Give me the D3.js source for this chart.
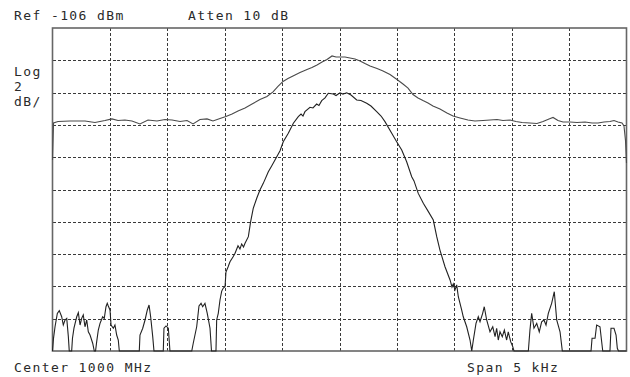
<!DOCTYPE html>
<html>
<head>
<meta charset="utf-8">
<script src="https://cdn.jsdelivr.net/npm/d3@7/dist/d3.min.js"></script>
<style>
  html, body { margin: 0; padding: 0; background: #fff; }
  svg { display: block; }
  text { font-family: "DejaVu Sans Mono", "Liberation Mono", monospace; font-size: 13px; fill: #2a2a2a; letter-spacing: 1.4px; }
</style>
</head>
<body>
<svg id="chart" width="630" height="377"></svg>
<script>
// ---- Data (frequency offset from center in Hz, amplitude in dBm) ----
const refLevel = -106;
const dbPerDiv = 2;
const xGrid = [-2500, -2000, -1500, -1000, -500, 0, 500, 1000, 1500, 2000, 2500];
const yGrid = [-106, -108, -110, -112, -114, -116, -118, -120, -122, -124, -126];

const wideFreq = [-2500,-2491,-2452,-2348,-2217,-2130,-2043,-1982,-1929,-1869,-1808,-1738,-1668,-1590,-1520,-1459,-1389,-1328,-1276,-1215,-1154,-1102,-1041,-989,-936,-884,-823,-754,-693,-632,-579,-536,-492,-449,-405,-344,-283,-240,-196,-152,-109,-65,-30,4,48,91,135,179,222,266,327,379,440,501,553,597,640,684,727,771,814,875,936,989,1050,1119,1180,1250,1311,1372,1424,1485,1537,1590,1659,1720,1773,1825,1860,1903,1947,2008,2069,2139,2200,2252,2304,2356,2391,2426,2461,2478,2491,2500];
const wideDbm = [-114.17,-111.88,-111.79,-111.76,-111.76,-111.85,-111.73,-111.63,-111.73,-111.70,-111.76,-111.94,-111.70,-111.76,-111.67,-111.70,-111.79,-111.73,-111.94,-111.67,-111.63,-111.76,-111.60,-111.48,-111.33,-111.14,-110.95,-110.68,-110.43,-110.24,-109.96,-109.62,-109.31,-109.13,-108.97,-108.76,-108.57,-108.45,-108.29,-108.11,-107.95,-107.73,-107.80,-107.80,-107.80,-107.86,-107.92,-108.04,-108.20,-108.35,-108.51,-108.66,-108.88,-109.19,-109.47,-109.72,-110.12,-110.33,-110.49,-110.64,-110.83,-111.02,-111.26,-111.45,-111.57,-111.70,-111.76,-111.73,-111.70,-111.67,-111.73,-111.70,-111.79,-111.85,-111.88,-111.91,-111.79,-111.63,-111.54,-111.73,-111.82,-111.82,-111.85,-111.82,-111.88,-111.88,-111.82,-111.79,-111.73,-111.82,-111.88,-112.07,-112.94,-114.36];

const narrowFreq = [-2500,-2491,-2478,-2458,-2441,-2420,-2406,-2391,-2376,-2362,-2354,-2333,-2326,-2313,-2289,-2275,-2260,-2246,-2232,-2217,-2202,-2188,-2173,-2150,-2136,-2125,-2115,-2101,-2086,-2063,-2049,-2034,-2023,-2014,-1999,-1990,-1970,-1956,-1941,-1927,-1918,-1744,-1738,-1714,-1694,-1674,-1659,-1645,-1627,-1616,-1535,-1529,-1511,-1491,-1477,-1287,-1274,-1244,-1224,-1206,-1192,-1172,-1152,-1128,-1115,-1076,-1070,-1056,-1041,-1026,-1012,-997,-989,-971,-954,-928,-910,-884,-867,-852,-836,-823,-794,-774,-751,-721,-693,-664,-620,-591,-562,-518,-490,-446,-402,-359,-335,-318,-301,-257,-231,-199,-179,-155,-126,-98,-54,-30,4,30,63,100,150,187,237,274,324,362,396,455,498,542,585,629,649,686,730,774,817,847,875,919,963,980,991,1006,1021,1035,1064,1078,1093,1108,1137,1152,1166,1189,1209,1224,1247,1261,1282,1311,1335,1355,1369,1383,1398,1418,1436,1456,1470,1491,1509,1520,1645,1659,1674,1694,1718,1740,1761,1781,1799,1819,1848,1871,1892,1921,1941,2191,2200,2226,2240,2269,2282,2293,2356,2365,2391,2409,2420,2430,2500];
const narrowDbm = [-126,-125.20,-124.50,-123.67,-123.50,-123.88,-124.39,-124.08,-123.98,-125.11,-126,-126,-125.21,-124.59,-123.88,-123.63,-124.39,-123.98,-123.77,-124.50,-124.08,-124.81,-125.01,-125.52,-126,-126,-125.42,-124.70,-124.29,-123.88,-123.98,-123.26,-123.05,-123.21,-123.46,-124.39,-124.59,-124.39,-125.01,-125.32,-126,-126,-125.01,-124.59,-124.08,-123.46,-123.15,-123.88,-125.11,-126,-126,-124.59,-124.45,-124.59,-126,-126,-125.52,-124.50,-123.21,-123.05,-123.26,-123.05,-123.67,-124.59,-126,-126,-124.08,-123.67,-122.84,-122.29,-122.10,-122.02,-121.11,-120.80,-120.47,-120.18,-119.95,-119.48,-119.68,-119.37,-119.56,-119.33,-118.92,-117.99,-117.16,-116.54,-116.03,-115.62,-114.90,-114.54,-114.17,-113.60,-113.04,-112.52,-111.90,-111.49,-111.33,-111.45,-111.18,-110.91,-110.95,-110.71,-110.80,-110.50,-110.33,-110.04,-110.09,-110.18,-110.01,-110.09,-110.01,-110.15,-110.46,-110.49,-110.66,-110.83,-111.18,-111.45,-111.80,-112.52,-113.04,-113.55,-114.28,-115.21,-115.47,-116.24,-116.85,-117.37,-117.89,-118.92,-119.75,-120.78,-121.60,-122.04,-121.85,-122.22,-121.91,-122.64,-123.46,-123.88,-124.19,-124.50,-125.32,-126,-125.32,-124.29,-123.88,-124.19,-123.67,-123.26,-124.08,-124.81,-124.50,-125.11,-124.59,-125.32,-124.81,-125.11,-124.70,-125.32,-124.81,-125.42,-125.73,-126,-126,-124.70,-123.67,-124.59,-124.29,-124.81,-124.19,-124.08,-124.39,-123.67,-123.05,-122.33,-124.08,-124.81,-126,-126,-125.21,-125.21,-124.39,-124.50,-125.32,-126,-126,-124.59,-124.59,-125.01,-125.83,-126,-126];

const topLabels = ["Ref -106 dBm", "Atten 10 dB"];
const scaleLabels = ["Log", "2", "dB/"];
const bottomLabels = ["Center 1000 MHz", "Span 5 kHz"];

// ---- Drawing ----
const svg = d3.select("#chart");
const L = 52.5, R = 626.5, T = 28, B = 351;
const x = d3.scaleLinear().domain([-2500, 2500]).range([L, R]);
const y = d3.scaleLinear().domain([refLevel - 10 * dbPerDiv, refLevel]).range([B, T]);

// grid
const gx = svg.append("g").attr("transform", `translate(0,${B})`)
  .call(d3.axisBottom(x).tickValues(xGrid.slice(1, -1)).tickSize(-(B - T)).tickFormat(""));
const gy = svg.append("g").attr("transform", `translate(${L},0)`)
  .call(d3.axisLeft(y).tickValues(yGrid.slice(1, -1)).tickSize(-(R - L)).tickFormat(""));
[gx, gy].forEach(g => {
  g.select(".domain").remove();
  g.selectAll(".tick line").attr("stroke", "#3a3a3a").attr("stroke-width", 1)
    .attr("stroke-dasharray", "3,2").attr("shape-rendering", "crispEdges");
});

// frame
svg.append("rect").attr("x", L).attr("y", T).attr("width", R - L).attr("height", B - T)
  .attr("fill", "none").attr("stroke", "#666").attr("stroke-width", 1.6);

const line = d3.line().x(d => x(d[0])).y(d => y(d[1]));

svg.append("path").datum(wideFreq.map((f, i) => [f, wideDbm[i]]))
  .attr("d", line).attr("fill", "none").attr("stroke", "#4a4a4a").attr("stroke-width", 1.1);
svg.append("path").datum(narrowFreq.map((f, i) => [f, narrowDbm[i]]))
  .attr("d", line).attr("fill", "none").attr("stroke", "#222").attr("stroke-width", 1.1);

// labels
svg.append("text").attr("x", 14).attr("y", 20).text(topLabels[0]);
svg.append("text").attr("x", 188).attr("y", 20).text(topLabels[1]);
scaleLabels.forEach((t, i) => svg.append("text").attr("x", 14).attr("y", 76 + i * 15).text(t));
svg.append("text").attr("x", 14).attr("y", 372).text(bottomLabels[0]);
svg.append("text").attr("x", 467).attr("y", 372).text(bottomLabels[1]);
</script>
</body>
</html>
